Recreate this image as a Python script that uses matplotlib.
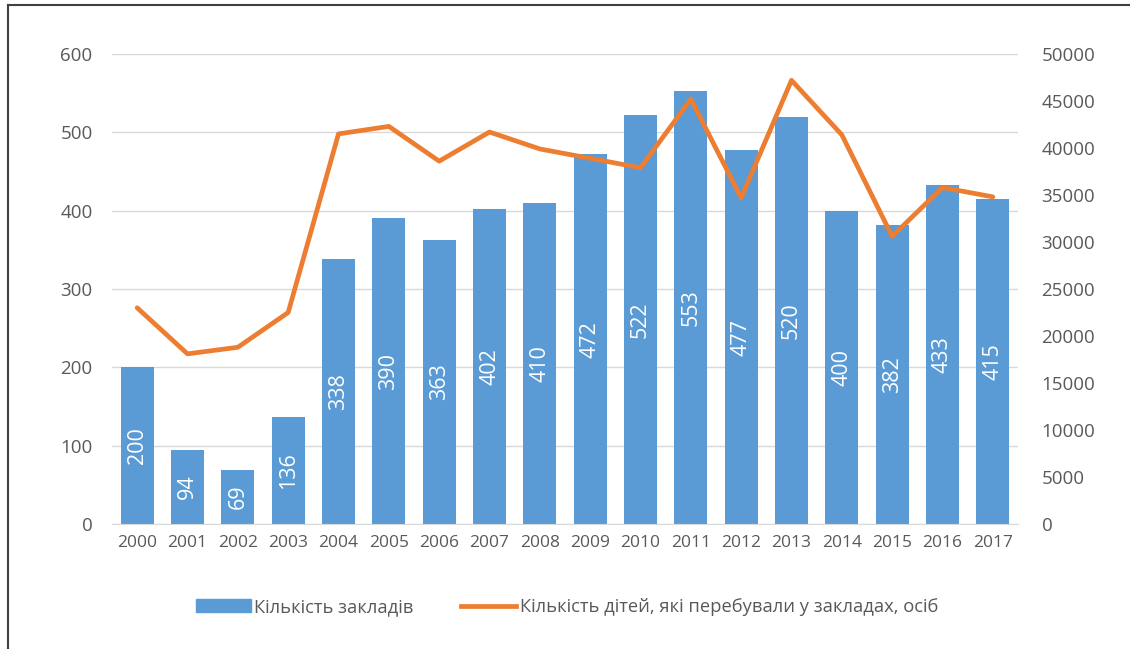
import matplotlib.pyplot as plt
from matplotlib.lines import Line2D
import numpy as np

# data
years = [str(y) for y in range(2000, 2018)]
institutions = [200, 94, 69, 136, 338, 390, 363, 402, 410, 472, 522, 553, 477, 520, 400, 382, 433, 415]
children = [23000, 18100, 18800, 22500, 41500, 42300, 38600, 41700, 39900, 38900,
            37900, 45200, 34700, 47200, 41400, 30600, 35800, 34800]

label_bars = "Кількість закладів"
label_line = "Кількість дітей, які перебували у закладах, осіб"

blue = "#5B9BD5"
orange = "#ED7D31"
grey = "#595959"

plt.rcParams['font.family'] = ['Open Sans', 'DejaVu Sans']

fig = plt.figure(figsize=(11.34, 6.49), dpi=100)
ax = fig.add_axes([112/1134, 1 - 524/649, (1018-112)/1134, (524-54)/649])
ax2 = ax.twinx()

x = np.arange(len(years))
ax.bar(x, institutions, width=0.66, color=blue, zorder=2)
for xi, v in zip(x, institutions):
    ax.text(xi, v / 2, str(v), rotation=90, ha="center", va="center",
            color="white", fontsize=15.5, zorder=3)

ax2.plot(x, children, color=orange, linewidth=3.4, solid_capstyle="round", zorder=4)

ax.set_xlim(-0.5, len(years) - 0.5)
ax.set_ylim(0, 600)
ax.set_yticks(range(0, 601, 100))
ax2.set_ylim(0, 50000)
ax2.set_yticks(range(0, 50001, 5000))

ax.set_xticks(x)
ax.set_xticklabels(years)
ax.yaxis.grid(True, color="#D9D9D9", linewidth=1)
ax.set_axisbelow(True)

for a in (ax, ax2):
    for s in a.spines.values():
        s.set_visible(False)
    a.tick_params(length=0, colors=grey)
ax.spines["bottom"].set_visible(True)
ax.spines["bottom"].set_color("#D9D9D9")
ax.tick_params(axis="y", labelsize=13.5, pad=14)
ax.tick_params(axis="x", labelsize=12.5, pad=8)
ax2.tick_params(axis="y", labelsize=13.5, pad=17)

handles = [plt.Rectangle((0, 0), 1, 1, color=blue),
           Line2D([0], [0], color=orange, linewidth=3.4)]
fig.legend(handles, [label_bars, label_line], loc="center", bbox_to_anchor=(0.5, 1 - 607/649),
           ncol=2, frameon=False, fontsize=13.2, labelcolor=grey, handlelength=3.0,
           handletextpad=0.2, columnspacing=2.6)

# outer border (top and left edges visible)
fig.add_artist(Line2D([8/1134, 8/1134], [0, 1 - 5/649], color="#404040", linewidth=1.5))
fig.add_artist(Line2D([8/1134, 1129/1134], [1 - 5/649, 1 - 5/649], color="#404040", linewidth=1.5))

fig.savefig("out.png", dpi=100)
